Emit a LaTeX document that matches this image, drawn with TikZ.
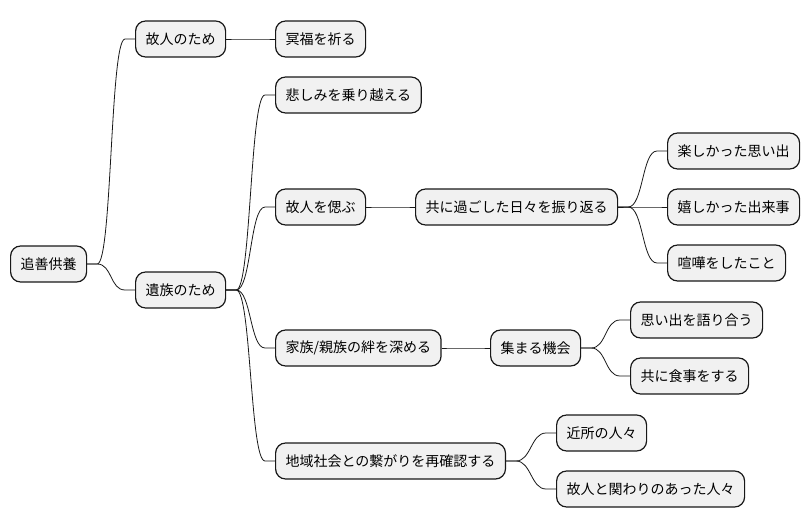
\documentclass[tikz,border=0pt]{standalone}
\usepackage{fontspec}
\newfontfamily\jpfont{Noto Sans CJK JP}
\definecolor{boxfill}{HTML}{F1F1F1}
\definecolor{boxline}{HTML}{181818}
\tikzset{
  mm/.style={draw=boxline, fill=boxfill, line width=1.2pt, rounded corners=10pt,
    minimum height=36pt, inner xsep=10pt, inner ysep=0pt, anchor=west,
    font=\jpfont\fontsize{14pt}{16pt}\selectfont, text=black},
  conn/.style={draw=boxline, line width=0.8pt}
}
\newcommand{\mmlink}[2]{\draw[conn] (#1.east) -- ++(10,0) .. controls +(15,0) and +(-15,0) .. ([xshift=-10pt]#2.west) -- (#2.west);}
\begin{document}
\begin{tikzpicture}[x=1pt,y=-1pt]
\useasboundingbox (0,0) rectangle (810,527);
\node[mm] (root) at (10,264) {追善供養};
\node[mm] (a) at (135,39) {故人のため};
\node[mm] (a1) at (275,39) {冥福を祈る};
\node[mm] (b) at (135,290) {遺族のため};
\node[mm] (b1) at (275,95) {悲しみを乗り越える};
\node[mm] (b2) at (275,207) {故人を偲ぶ};
\node[mm] (b21) at (415,207) {共に過ごした日々を振り返る};
\node[mm] (b211) at (667,151) {楽しかった思い出};
\node[mm] (b212) at (667,207) {嬉しかった出来事};
\node[mm] (b213) at (667,263) {喧嘩をしたこと};
\node[mm] (b3) at (275,348) {家族/親族の絆を深める};
\node[mm] (b31) at (490,348) {集まる機会};
\node[mm] (b311) at (630,320) {思い出を語り合う};
\node[mm] (b312) at (630,376) {共に食事をする};
\node[mm] (b4) at (275,461) {地域社会との繋がりを再確認する};
\node[mm] (b41) at (556,433) {近所の人々};
\node[mm] (b42) at (556,489) {故人と関わりのあった人々};
\mmlink{root}{a}
\mmlink{a}{a1}
\mmlink{root}{b}
\mmlink{b}{b1}
\mmlink{b}{b2}
\mmlink{b2}{b21}
\mmlink{b21}{b211}
\mmlink{b21}{b212}
\mmlink{b21}{b213}
\mmlink{b}{b3}
\mmlink{b3}{b31}
\mmlink{b31}{b311}
\mmlink{b31}{b312}
\mmlink{b}{b4}
\mmlink{b4}{b41}
\mmlink{b4}{b42}
\end{tikzpicture}
\end{document}
